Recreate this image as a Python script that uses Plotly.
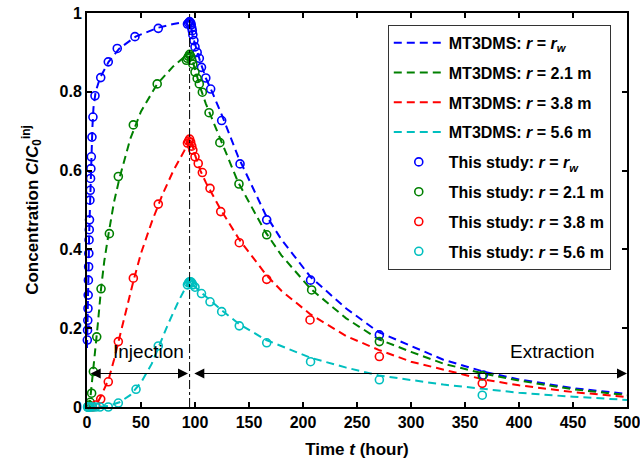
import plotly.graph_objects as go

# ---------------- data ----------------
t_inj = 95  # end of injection (hour)

# MT3DMS curves
mt_rw_t = [0, 0.5, 1, 1.5, 2, 3, 4, 5, 6, 8, 12, 20, 30, 45, 65, 80, 95,
           96, 97, 98, 100, 105, 110, 115, 125, 140, 165, 180, 207, 240, 270, 300, 330, 367, 400, 450, 500]
mt_rw_c = [0.15, 0.2, 0.27, 0.356, 0.44, 0.55, 0.635, 0.71, 0.76, 0.8, 0.835, 0.876, 0.91, 0.94, 0.962, 0.972, 0.98,
           0.97, 0.955, 0.94, 0.92, 0.875, 0.835, 0.805, 0.74, 0.635, 0.49, 0.425, 0.33, 0.25, 0.19, 0.155, 0.12, 0.09, 0.07, 0.048, 0.033]

mt_21_t = [0, 2, 3, 4, 5, 6, 8, 10, 13, 16, 20, 25, 30, 40, 50, 65, 80, 95,
           97, 100, 105, 110, 115, 125, 140, 165, 180, 207, 240, 270, 300, 330, 367, 400, 450, 500]
mt_21_c = [0, 0.005, 0.02, 0.045, 0.075, 0.1, 0.15, 0.21, 0.3, 0.37, 0.44, 0.52, 0.58, 0.68, 0.75, 0.82, 0.865, 0.9,
           0.885, 0.855, 0.81, 0.77, 0.735, 0.67, 0.57, 0.445, 0.385, 0.3, 0.225, 0.172, 0.14, 0.11, 0.085, 0.067, 0.045, 0.03]

mt_38_t = [0, 5, 8, 10, 13, 16, 20, 25, 30, 35, 43, 50, 60, 70, 80, 90, 95,
           97, 100, 105, 110, 115, 124, 141, 166, 180, 207, 240, 270, 300, 330, 367, 400, 450, 500]
mt_38_c = [0, 0, 0.005, 0.012, 0.028, 0.045, 0.07, 0.12, 0.175, 0.235, 0.32, 0.39, 0.47, 0.54, 0.6, 0.65, 0.685,
           0.67, 0.64, 0.6, 0.57, 0.545, 0.5, 0.425, 0.335, 0.295, 0.235, 0.18, 0.145, 0.115, 0.095, 0.07, 0.055, 0.038, 0.025]

mt_56_t = [0, 10, 20, 30, 40, 45, 50, 60, 66, 75, 85, 95,
           97, 100, 106, 114, 125, 141, 166, 207, 240, 270, 300, 330, 367, 400, 450, 500]
mt_56_c = [0, 0, 0.003, 0.012, 0.03, 0.045, 0.062, 0.11, 0.15, 0.21, 0.27, 0.322,
           0.315, 0.305, 0.29, 0.27, 0.245, 0.21, 0.17, 0.125, 0.1, 0.08, 0.068, 0.057, 0.046, 0.036, 0.026, 0.018]

# This study (semi-analytical) points
st_rw_t = [0.3, 0.5, 0.7, 0.9, 1.1, 1.3, 1.5, 1.7, 1.9, 2.1, 2.3, 2.7, 3.0, 3.3, 3.6, 4.0, 4.6, 5.5, 7.4,
           12.7, 19.7, 28, 44.4, 66, 93, 94, 95, 96, 96.5, 97, 97.5, 98, 99, 100, 102, 104, 106, 110,
           114.5, 124.7, 141.7, 166.4, 207, 270.7, 367]
st_rw_c = [0.17, 0.195, 0.22, 0.25, 0.284, 0.322, 0.356, 0.39, 0.424, 0.45, 0.475, 0.525, 0.55, 0.58, 0.605, 0.635, 0.685, 0.736, 0.79,
           0.836, 0.876, 0.91, 0.94, 0.961, 0.972, 0.975, 0.978, 0.975, 0.97, 0.962, 0.955, 0.945, 0.93, 0.914, 0.9, 0.885, 0.862, 0.835,
           0.807, 0.727, 0.617, 0.475, 0.322, 0.183, 0.081]

st_21_t = [1, 2, 3, 4.3, 5.9, 9, 13, 20.7, 29, 42.9, 65, 92, 93, 94, 95, 96, 97, 98, 100, 102, 104, 106.8,
           113, 123, 140.7, 166.4, 208, 270.7, 366]
st_21_c = [0.0, 0.005, 0.012, 0.035, 0.09, 0.178, 0.30, 0.44, 0.585, 0.716, 0.82, 0.88, 0.885, 0.89, 0.895, 0.89, 0.88, 0.87, 0.85, 0.834, 0.82, 0.799,
           0.747, 0.671, 0.566, 0.437, 0.297, 0.166, 0.079]

st_38_t = [5, 8, 12.7, 19.7, 29, 42.9, 66, 93, 94, 95, 96, 97, 98, 100, 103, 106.8, 113.9, 123.8, 141, 166.4, 206.5, 270.7, 366]
st_38_c = [0.0, 0.005, 0.02, 0.064, 0.166, 0.327, 0.515, 0.67, 0.675, 0.68, 0.672, 0.662, 0.652, 0.635, 0.618, 0.595, 0.555, 0.496, 0.417, 0.324, 0.221, 0.128, 0.06]

st_56_t = [0.5, 1, 2, 3, 5, 8, 12, 19.7, 29, 45.4, 66, 93, 94, 95, 96, 97, 98, 100, 106, 113.9, 124.7, 141, 166.4, 207, 270.7, 366]
st_56_c = [0, 0, 0, 0, 0, 0, 0, 0.0, 0.01, 0.045, 0.155, 0.31, 0.315, 0.318, 0.318, 0.315, 0.31, 0.304, 0.288, 0.267, 0.242, 0.206, 0.163, 0.115, 0.069, 0.03]

labels_mt = ["MT3DMS: <i>r</i> = <i>r<sub>w</sub></i>", "MT3DMS: <i>r</i> = 2.1 m",
             "MT3DMS: <i>r</i> = 3.8 m", "MT3DMS: <i>r</i> = 5.6 m"]
labels_st = ["This study: <i>r</i> = <i>r<sub>w</sub></i>", "This study: <i>r</i> = 2.1 m",
             "This study: <i>r</i> = 3.8 m", "This study: <i>r</i> = 5.6 m"]
colors = ["#0000FF", "#008000", "#FF0000", "#00BFBF"]

arrow_y = 0.085
x_ticks = [0, 50, 100, 150, 200, 250, 300, 350, 400, 450, 500]
y_ticks = [0, 0.2, 0.4, 0.6, 0.8, 1]

FONT = "Liberation Sans, Arial, sans-serif"

# ---------------- figure ----------------
fig = go.Figure()
mt = [(mt_rw_t, mt_rw_c), (mt_21_t, mt_21_c), (mt_38_t, mt_38_c), (mt_56_t, mt_56_c)]
st = [(st_rw_t, st_rw_c), (st_21_t, st_21_c), (st_38_t, st_38_c), (st_56_t, st_56_c)]

k = 0
for (tx, cy), lab, col in zip(mt, labels_mt, colors):
    fig.add_trace(go.Scatter(x=tx, y=cy, mode="lines", name=lab, legendgroup=f"g{k}",
                             line=dict(color=col, width=2, dash="8px,5px")))
    k += 1
for (tx, cy), lab, col in zip(st, labels_st, colors):
    fig.add_trace(go.Scatter(x=tx, y=cy, mode="markers", name=lab, cliponaxis=False, legendgroup=f"g{k}",
                             marker=dict(symbol="circle-open", size=8, color=col,
                                         line=dict(width=1.6, color=col))))
    k += 1

# vertical dash-dot line at end of injection
fig.add_shape(type="line", x0=t_inj, x1=t_inj, y0=0, y1=1, xref="x", yref="y",
              line=dict(color="black", width=1, dash="dashdot"))

# double arrows
for x_end, x_start in [(t_inj - 1.5, 2), (500, t_inj + 3)]:
    fig.add_annotation(x=x_end, y=arrow_y, ax=x_start, ay=arrow_y, xref="x", yref="y",
                       axref="x", ayref="y", text="", showarrow=True, arrowside="end+start",
                       arrowhead=2, arrowsize=2, arrowwidth=1, arrowcolor="black",
                       standoff=0, startstandoff=0, startarrowhead=2, startarrowsize=2)
fig.add_annotation(x=57, y=0.14, text="Injection", showarrow=False, xref="x", yref="y",
                   font=dict(size=19, color="black", family=FONT, weight="normal"))
fig.add_annotation(x=431, y=0.14, text="Extraction", showarrow=False, xref="x", yref="y",
                   font=dict(size=19, color="black", family=FONT, weight="normal"))

axis_common = dict(showgrid=False, zeroline=False, showline=True, linecolor="black", linewidth=2,
                   mirror="ticks", ticks="inside", ticklen=5, tickcolor="black", tickwidth=1.5,
                   automargin=False, ticklabeloverflow="allow", tickfont=dict(size=16, color="black"))
fig.update_xaxes(range=[0, 500], tickvals=x_ticks,
                 title=dict(text="Time <i>t</i> (hour)", standoff=13, font=dict(size=17)), **axis_common)
fig.update_yaxes(range=[0, 1], tickvals=y_ticks,
                 title=dict(text="Concentration <i>C</i>/<i>C</i><sub>0</sub><sup>inj</sup>", standoff=17,
                            font=dict(size=17)), **axis_common)

fig.update_layout(
    width=640, height=464,
    margin=dict(l=87, r=13, t=13, b=57, autoexpand=False),
    paper_bgcolor="white", plot_bgcolor="white",
    font=dict(family=FONT, size=16, color="black", weight="bold"),
    showlegend=True,
    legend=dict(x=0.557, y=0.97, xanchor="left", yanchor="top", bgcolor="white",
                bordercolor="#333333", borderwidth=1, font=dict(size=16),
                tracegroupgap=6, itemwidth=50),
)

# remove the default 8px page margin so the figure fills the window exactly
fig.write_html("out.html", config={"displayModeBar": False},
               post_script="document.body.style.margin='0px';")
